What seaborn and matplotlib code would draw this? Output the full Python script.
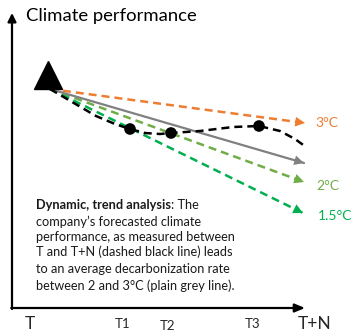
import numpy as np
import pandas as pd
import matplotlib
matplotlib.use("Agg")
import matplotlib.pyplot as plt
import seaborn as sns

# ---------------- data ----------------
# time axis in arbitrary units, performance axis in arbitrary units (higher = up)
start_time = 50
start_perf = 242

scenario_names = ["3°C", "2°C", "1.5°C"]
scenario_end_time = [305, 304, 303]
scenario_end_perf = [208, 149, 118]
scenario_colors = ["#ED7D31", "#70AD47", "#00B050"]

trend_end_time = 304
trend_end_perf = 168

company_time = [50, 67, 96, 115, 130, 145, 160, 171, 200, 233, 259, 280, 295, 306]
company_perf = [242, 232, 215, 207, 202, 198, 197, 198, 200, 204, 205, 200, 192, 184]

milestone_time = [130, 171, 259]
milestone_perf = [202, 198, 205]

tick_labels = ["T", "T1", "T2", "T3", "T+N"]

title = "Climate performance"
note_bold = "Dynamic, trend analysis"
note_lines = [": The",
              "company\u2019s forecasted climate",
              "performance, as measured between",
              "T and T+N (dashed black line) leads",
              "to an average decarbonization rate",
              "between 2 and 3°C (plain grey line)."]

# ---------------- figure ----------------
sns.set_theme(style="white")
plt.rcParams["font.family"] = ["Lato", "DejaVu Sans"]

fig = plt.figure(figsize=(3.52, 3.31), dpi=100)
ax = fig.add_axes([0, 0, 1, 1])
ax.set_xlim(0, 352)
ax.set_ylim(0, 331)
ax.axis("off")

dash = (0, (3.2, 2.0))

# axes arrows
ax.annotate("", xy=(12, 318), xytext=(12, 22),
            arrowprops=dict(arrowstyle="-|>,head_length=0.5,head_width=0.25",
                            lw=1.6, color="black", shrinkA=0, shrinkB=0,
                            mutation_scale=10))
ax.annotate("", xy=(305, 23), xytext=(11.2, 23),
            arrowprops=dict(arrowstyle="-|>,head_length=0.6,head_width=0.25",
                            lw=1.6, color="black", shrinkA=0, shrinkB=0,
                            mutation_scale=10))


def arrow_head(x0, y0, x1, y1, color):
    v = np.array([x1 - x0, y1 - y0], dtype=float)
    v /= np.hypot(*v)
    back = np.array([x1, y1]) - v * 6
    ax.annotate("", xy=(x1, y1), xytext=tuple(back),
                arrowprops=dict(arrowstyle="-|>,head_length=0.7,head_width=0.35",
                                lw=0, color=color, shrinkA=0, shrinkB=0,
                                mutation_scale=10))


# scenario lines
for name, ex, ey, col in zip(scenario_names, scenario_end_time, scenario_end_perf, scenario_colors):
    sns.lineplot(x=[start_time, ex], y=[start_perf, ey], ax=ax, color=col,
                 lw=1.8, linestyle=dash, sort=False)
    arrow_head(start_time, start_perf, ex, ey, col)

# average trend line
sns.lineplot(x=[start_time, trend_end_time], y=[start_perf, trend_end_perf], ax=ax,
             color="#808080", lw=1.6, sort=False)
arrow_head(start_time, start_perf, trend_end_time, trend_end_perf, "#808080")

# company forecast
sns.lineplot(x=company_time, y=company_perf, ax=ax, color="black", lw=1.8,
             linestyle=dash, sort=False)
sns.scatterplot(x=milestone_time, y=milestone_perf, ax=ax, color="black", s=70,
                edgecolor="none", zorder=5)

# starting triangle
ax.plot([48], [256], marker="^", markersize=20, color="black", zorder=6)

# scenario labels
label_pos = [(315, 208), (316, 145), (318, 115)]
for name, (lx, ly), col in zip(scenario_names, label_pos, scenario_colors):
    ax.text(lx, ly, name, color=col, fontsize=10, va="center", ha="left")

# title
ax.text(26, 315, title, fontsize=13.3, va="center", ha="left", color="black")

# time labels
ax.text(30, 7, tick_labels[0], fontsize=12.5, ha="center", va="center")
ax.text(123, 7, tick_labels[1], fontsize=9.5, ha="center", va="center")
ax.text(167, 5, tick_labels[2], fontsize=9.5, ha="center", va="center")
ax.text(253, 7, tick_labels[3], fontsize=9.5, ha="center", va="center")
ax.text(315, 7, tick_labels[4], fontsize=12.5, ha="center", va="center")

# note
fs = 9.2
t0 = ax.text(36, 126, note_bold, fontsize=fs, fontweight="bold", va="center", ha="left",
             color="#1a1a1a")
ax.annotate(note_lines[0], xy=(1, 0), xycoords=t0, va="bottom", ha="left", fontsize=fs,
            color="#1a1a1a")
ys = [109, 94, 79, 62, 45]
for line, y in zip(note_lines[1:], ys):
    ax.text(36, y, line, fontsize=fs, va="center", ha="left", color="#1a1a1a")

fig.savefig("out.png", dpi=100)
